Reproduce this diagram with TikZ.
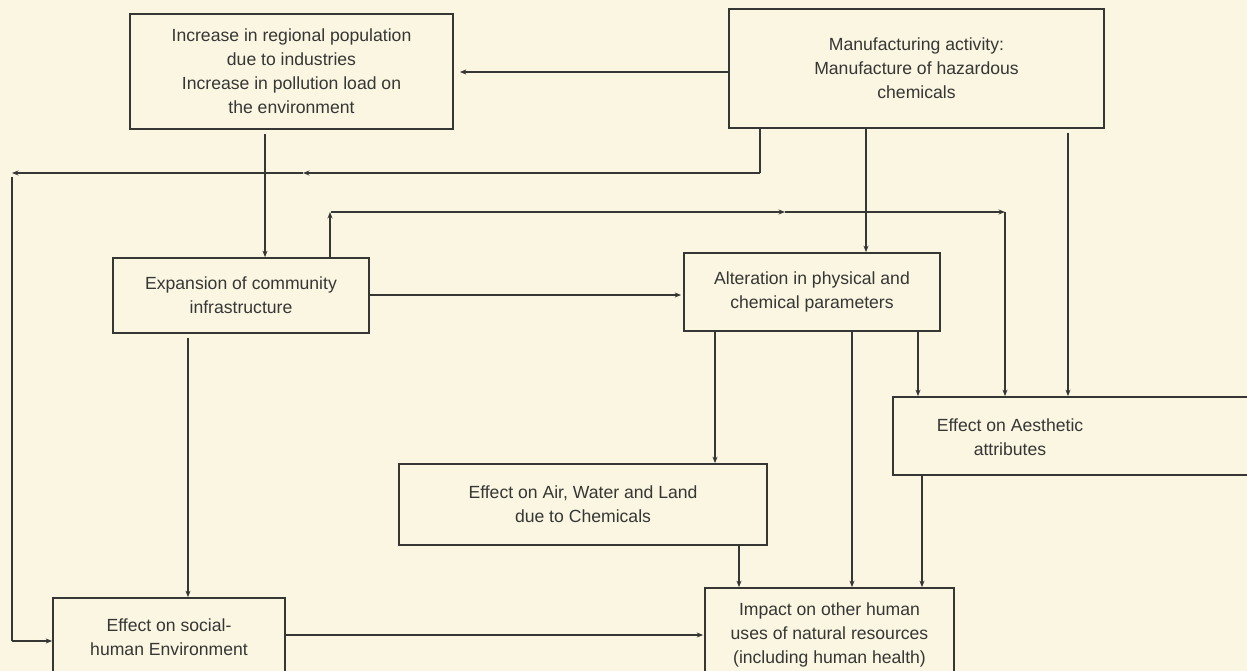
\documentclass[tikz,border=0pt]{standalone}
\usepackage{fontspec}
\setmainfont{Liberation Sans}
\usetikzlibrary{arrows.meta,calc}
\definecolor{paper}{HTML}{FAF6E2}
\definecolor{ink}{HTML}{363634}
\begin{document}
\begin{tikzpicture}[x=1pt,y=-1pt,
  box/.style={draw=ink, line width=1.7pt, inner sep=0pt, align=center, text=ink,
    font=\fontsize{17.6}{24}\selectfont},
  txt/.style={inner sep=0pt, align=center, text=ink, font=\fontsize{17.6}{24}\selectfont},
  ln/.style={draw=ink, line width=1.7pt},
  arr/.style={draw=ink, line width=1.7pt, -{Stealth[length=6.5pt,width=5pt]}}]
\fill[paper] (0,0) rectangle (1247,671);
\useasboundingbox (0,0) rectangle (1247,671);
\clip (0,0) rectangle (1247,671);

% boxes
\node[box, minimum width=323pt, minimum height=115pt] (pop) at (291.5,71.5)
  {Increase in regional population\\due to industries\\Increase in pollution load on\\the environment};
\node[box, minimum width=375pt, minimum height=119pt] (man) at (916.5,68.5)
  {Manufacturing activity:\\Manufacture of hazardous\\chemicals};
\node[box, minimum width=256pt, minimum height=75pt] (exp) at (241,295.5)
  {Expansion of community\\infrastructure};
\node[box, minimum width=256pt, minimum height=78pt] (alt) at (812,292)
  {Alteration in physical and\\chemical parameters};
\node[box, minimum width=370pt, minimum height=78pt] (aes) at (1078,436) {};
\node[txt] (aestxt) at (1010,437) {Effect on Aesthetic\\attributes};
\node[box, minimum width=368pt, minimum height=81pt] (air) at (583,504.5)
  {Effect on Air, Water and Land\\due to Chemicals};
\node[box, minimum width=249pt, minimum height=94pt] (imp) at (829.5,635)
  {Impact on other human\\uses of natural resources\\(including human health)};
\node[box, minimum width=232pt, minimum height=78pt] (soc) at (169,637)
  {Effect on social-\\human Environment};

% helper coordinates
\coordinate (m1) at (760,173);
\coordinate (mid1) at (303,173);
\coordinate (lc) at (12,173);
\coordinate (lb) at (12,641);
\coordinate (e1) at (330,212);
\coordinate (e2) at (785,212);
\coordinate (e3) at (1005,212);
\coordinate (xa) at (265,0);
\coordinate (xb) at (866,0);
\coordinate (xc) at (1068,0);
\coordinate (xd) at (715,0);
\coordinate (xe) at (852,0);
\coordinate (xf) at (918,0);
\coordinate (xg) at (739,0);
\coordinate (xh) at (922,0);
\coordinate (xi) at (188,0);
\coordinate (ya) at (0,72);
\coordinate (yb) at (0,295);
\coordinate (yc) at (0,635);

% connectors
\draw[arr, shorten >=6pt] (man.west |- ya) -- (pop.east |- ya);
\draw[ln] (man.south -| m1) -- (m1);
\draw[arr] (m1) -- (mid1);
\draw[arr] (mid1) -- (lc);
\draw[ln] ($(lc)+(0,4)$) -- (lb);
\draw[arr] (lb) -- (soc.west |- lb);
\draw[arr, shorten <=4pt] (pop.south -| xa) -- (exp.north -| xa);
\draw[arr] (exp.north -| e1) -- (e1);
\draw[arr] ($(e1)+(1,0)$) -- (e2);
\draw[arr] (e2) -- (e3);
\draw[arr] (e3) -- (aes.north -| e3);
\draw[arr, shorten >=2pt] (exp.east |- yb) -- (alt.west |- yb);
\draw[arr] (man.south -| xb) -- (alt.north -| xb);
\draw[arr, shorten <=4pt] (man.south -| xc) -- (aes.north -| xc);
\draw[arr] (alt.south -| xd) -- (air.north -| xd);
\draw[arr] (alt.south -| xe) -- (imp.north -| xe);
\draw[arr] (alt.south -| xf) -- (aes.north -| xf);
\draw[arr] (air.south -| xg) -- (imp.north -| xg);
\draw[arr] (aes.south -| xh) -- (imp.north -| xh);
\draw[arr, shorten >=1pt] (soc.east |- yc) -- (imp.west |- yc);
\draw[arr, shorten <=4pt] (exp.south -| xi) -- (soc.north -| xi);
\end{tikzpicture}
\end{document}
